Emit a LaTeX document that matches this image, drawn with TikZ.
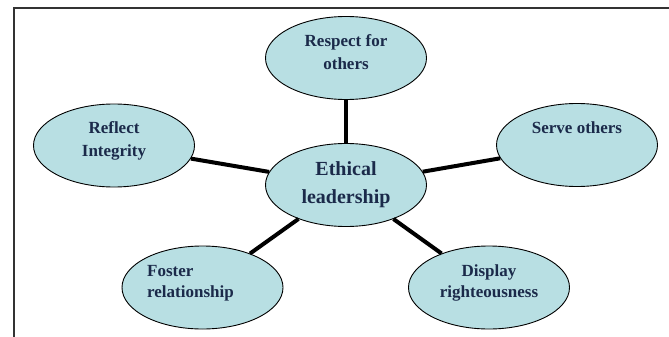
\documentclass[tikz,border=0pt]{standalone}
\usepackage{fontspec}
\setmainfont{Liberation Serif}
\usetikzlibrary{shapes.geometric}
\definecolor{bubfill}{HTML}{B8DFE3}
\definecolor{navy}{HTML}{1B2A4A}
\definecolor{framegray}{HTML}{333333}
\tikzset{
  bub/.style={ellipse, draw=black, line width=0.9pt, fill=bubfill, inner sep=0pt,
              minimum width=161pt, minimum height=83pt},
  txt/.style={text=navy, font=\bfseries\fontsize{17}{23.4}\selectfont, inner sep=0pt, anchor=base},
  bigtxt/.style={text=navy, font=\bfseries\fontsize{20}{28}\selectfont, inner sep=0pt, anchor=base},
  link/.style={line width=4pt, black},
  frameline/.style={line width=2pt, framegray}
}
\begin{document}
\begin{tikzpicture}[x=1pt,y=-1pt]
\useasboundingbox (0,0) rectangle (669,337);
\coordinate (ftl) at (14,8);
\coordinate (ftr) at (669,8);
\coordinate (fbl) at (14,337);
\draw[frameline] (fbl) -- (ftl) -- (ftr);

\node[bub] (c) at (346,185) {};
\node[bub] (r) at (346,58) {};
\node[bub] (i) at (114,145.5) {};
\node[bub] (s) at (577,145) {};
\node[bub] (f) at (202.5,287.5) {};
\node[bub] (d) at (489,287.5) {};

\draw[link] (c) -- (r);
\draw[link] (c) -- (i);
\draw[link] (c) -- (s);
\draw[link] (c) -- (f);
\draw[link] (c) -- (d);

\node[bigtxt] (ct1) at (346,175) {Ethical};
\node[bigtxt] (ct2) at (346,203) {leadership};
\node[txt] (rt1) at (346,46.5) {Respect for};
\node[txt] (rt2) at (346,69.5) {others};
\node[txt] (it1) at (114,133.3) {Reflect};
\node[txt] (it2) at (114,156.7) {Integrity};
\node[txt] (st1) at (577,133.3) {Serve others};
\node[txt, anchor=base west] (ft1) at (147,276) {Foster};
\node[txt, anchor=base west] (ft2) at (147,297.5) {relationship};
\node[txt] (dt1) at (489,276) {Display};
\node[txt] (dt2) at (489,297.5) {righteousness};
\end{tikzpicture}
\end{document}
